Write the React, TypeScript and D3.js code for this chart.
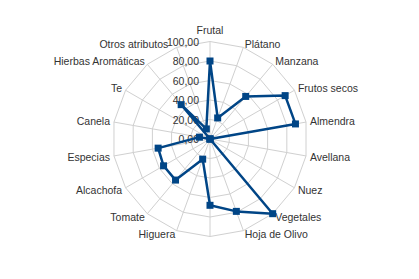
import React from "react";
import * as d3 from "d3";

const categories = [
  "Frutal", "Plátano", "Manzana", "Frutos secos", "Almendra", "Avellana", "Nuez",
  "Vegetales", "Hoja de Olivo", "", "Higuera", "Tomate", "Alcachofa", "Especias",
  "Canela", "Te", "Hierbas Aromáticas", "Otros atributos",
];
const values = [80, 23, 57, 89, 89, 0, 0, 100, 79, 68, 22, 55, 55, 54, 11, 0, 46, 11];
const ticks = [0, 20, 40, 60, 80, 100];

const W = 419, H = 279;
const cx = 210, cy = 139, R = 97.5;
const COLOR = "#004586";
const GRID = "#d0d0d0";
const FONT = "'Liberation Sans', Arial, sans-serif";

export default function App() {
  const n = categories.length;
  const r = d3.scaleLinear().domain([0, 100]).range([0, R]);
  const ang = (i: number) => (i * 2 * Math.PI) / n;
  const fmt = (v: number) => d3.format(".2f")(v).replace(".", ",");

  const ring = d3
    .lineRadial<number>()
    .angle((_d, i) => ang(i))
    .radius((d) => r(d))
    .curve(d3.curveLinearClosed);

  const series = d3
    .lineRadial<number>()
    .angle((_d, i) => ang(i))
    .radius((d) => r(d))
    .curve(d3.curveLinearClosed);

  const pt = (i: number, v: number) => [
    cx + r(v) * Math.sin(ang(i)),
    cy - r(v) * Math.cos(ang(i)),
  ];

  return (
    <svg
      width={W}
      height={H}
      style={{ position: "fixed", left: 0, top: 0, background: "#fff" }}
      fontFamily={FONT}
    >
      <g transform={`translate(${cx},${cy})`}>
        {ticks.slice(1).map((t) => (
          <path key={t} d={ring(categories.map(() => t)) || ""} fill="none" stroke={GRID} strokeWidth={1} />
        ))}
        {categories.map((_c, i) => (
          <line
            key={i}
            x1={0}
            y1={0}
            x2={r(100) * Math.sin(ang(i))}
            y2={-r(100) * Math.cos(ang(i))}
            stroke={GRID}
            strokeWidth={1}
          />
        ))}
      </g>
      {ticks.map((t) => (
        <text
          key={t}
          x={cx - 11}
          y={cy - r(t)}
          textAnchor="end"
          dominantBaseline="central"
          fontSize={10.5}
          fill="#333"
        >
          {fmt(t)}
        </text>
      ))}
      {categories.map((c, i) => {
        const a = ang(i);
        const s = Math.sin(a);
        const co = Math.cos(a);
        const lr = R + 4;
        let x = cx + lr * s;
        let y = cy - lr * co;
        let anchor: "start" | "end" | "middle" = "middle";
        if (Math.abs(s) < 0.01) {
          y += co > 0 ? -8 : 8;
        } else if (s > 0) anchor = "start";
        else anchor = "end";
        if (c === "Otros atributos") x -= 7;
        return (
          <text key={i} x={x} y={y} textAnchor={anchor} dominantBaseline="central" fontSize={10.5} fill="#333">
            {c}
          </text>
        );
      })}
      <g transform={`translate(${cx},${cy})`}>
        <path d={series(values) || ""} fill="none" stroke={COLOR} strokeWidth={2.5} strokeLinejoin="round" />
      </g>
      {values.map((v, i) => {
        const [x, y] = pt(i, v);
        return <rect key={i} x={x - 3.5} y={y - 3.5} width={7} height={7} fill={COLOR} />;
      })}
    </svg>
  );
}
